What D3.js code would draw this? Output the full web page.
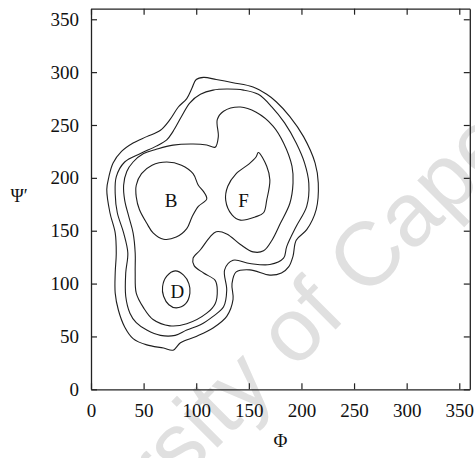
<!DOCTYPE html>
<html>
<head>
<meta charset="utf-8">
<script src="https://cdnjs.cloudflare.com/ajax/libs/d3/7.8.5/d3.min.js"></script>
<style>
  html, body { margin: 0; padding: 0; background: #fff; }
  svg { display: block; }
</style>
</head>
<body>
<svg id="chart" width="475" height="458"></svg>
<script>
// Free-energy contour levels in the (Φ, Ψ') plane, as [phi, psi] vertices in degrees.
const levelOuter = [
  [107,295],[119,293],[135,290],[154,286],[167,279],[176,272],[189,258],[202,239],
  [213,214],[216,195],[214,170],[205,151],[195,141],[192,126],[188,116],[181,110],
  [170,108],[151,113],[138,111],[134,100],[135,85],[129,69],[116,58],[100,50],
  [85,44],[78,37],[69,39],[53,42],[40,48],[32,59],[26,75],[23,91],[23,110],
  [24,129],[23,148],[18,167],[15,189],[17,201],[21,214],[29,225],[40,233],
  [53,239],[66,245],[75,255],[83,267],[91,275],[96,285],[100,293]
];
const levelSecond = [
  [24,201],[32,215],[47,223],[62,230],[72,236],[78,244],[86,258],[94,271],
  [104,279],[116,283],[129,284],[145,283],[159,279],[172,267],[184,252],[195,233],
  [203,214],[207,195],[205,173],[195,154],[186,135],[183,124],[170,118],[151,119],
  [135,122],[127,113],[129,94],[126,78],[116,69],[104,61],[91,56],[80,51],
  [66,51],[53,56],[43,63],[37,72],[33,88],[33,110],[35,129],[31,148],[25,167],[23,185]
];
const levelThird = [
  [118,229],[110,231],[97,232],[78,231],[62,227],[50,223],[40,215],[34,206],
  [31,193],[32,179],[36,163],[40,148],[42,129],[42,110],[43,91],[50,77],[59,66],
  [75,60],[91,62],[110,72],[118,81],[120,94],[118,103],[107,110],[98,117],
  [97,124],[104,132],[113,144],[119,149],[129,147],[142,137],[154,130],[164,131],
  [172,141],[180,157],[189,176],[192,195],[191,211],[183,233],[173,249],[157,262],
  [142,267],[126,263],[120,255],[121,239]
];
const basinB = [
  [43,182],[46,170],[53,157],[59,148],[69,142],[81,144],[91,152],[96,163],
  [102,173],[110,180],[107,187],[102,193],[97,204],[86,212],[72,215],[58,212],
  [48,204],[43,193]
];
const basinF = [
  [159,224],[167,211],[170,198],[167,179],[164,167],[156,163],[142,160],[134,165],
  [128,179],[130,192],[138,204],[150,213],[157,220]
];
const basinD = [
  [80,112],[88,108],[93,100],[94,91],[90,81],[81,77],[74,80],[69,88],[68,97],[72,107]
];
const levels = [levelOuter, levelSecond, levelThird, basinB, basinF, basinD];

// Basin names and where they sit.
const basinNames = ["B", "F", "D"];
const basinLabelPhi = [76, 145, 82];
const basinLabelPsi = [179, 179, 93];

const tickValues = [0, 50, 100, 150, 200, 250, 300, 350];
const axisDomain = [0, 360];

const svg = d3.select("#chart");
const x = d3.scaleLinear().domain(axisDomain).range([91, 469.8]);
const y = d3.scaleLinear().domain(axisDomain).range([389.3, 8.7]);

// Faint institutional watermark behind the plot.
svg.append("text")
  .attr("transform", "translate(340,325) rotate(-45)")
  .attr("text-anchor", "middle")
  .attr("font-family", "Liberation Sans, Arial, sans-serif")
  .attr("font-size", 90)
  .attr("fill", "#e0e0e0")
  .text("University of Cape Town");

const serif = "Liberation Serif, Times New Roman, serif";

// Contours
const line = d3.line()
  .x(d => x(d[0]))
  .y(d => y(d[1]))
  .curve(d3.curveCatmullRomClosed.alpha(0.5));

svg.append("g")
  .selectAll("path")
  .data(levels)
  .join("path")
  .attr("d", line)
  .attr("fill", "none")
  .attr("stroke", "#1e1e1e")
  .attr("stroke-width", 1.1);

// Axes: ticks point inward on all four sides, labels on bottom and left only.
function styleAxis(g) {
  g.selectAll("path.domain").attr("stroke", "#222").attr("stroke-width", 1.3);
  g.selectAll(".tick line").attr("stroke", "#222").attr("stroke-width", 1.2);
  g.selectAll(".tick text")
    .attr("font-family", serif)
    .attr("font-size", 19)
    .attr("fill", "#111");
}

svg.append("g")
  .attr("transform", `translate(0,${y(0)})`)
  .call(d3.axisBottom(x).tickValues(tickValues).tickSizeInner(-6).tickSizeOuter(0).tickPadding(14))
  .call(styleAxis);

svg.append("g")
  .attr("transform", `translate(${x(0)},0)`)
  .call(d3.axisLeft(y).tickValues(tickValues).tickSizeInner(-6).tickSizeOuter(0).tickPadding(12))
  .call(styleAxis);

svg.append("g")
  .attr("transform", `translate(0,${y(360)})`)
  .call(d3.axisTop(x).tickValues(tickValues).tickSizeInner(-6).tickSizeOuter(0).tickFormat(""))
  .call(styleAxis);

svg.append("g")
  .attr("transform", `translate(${x(360)},0)`)
  .call(d3.axisRight(y).tickValues(tickValues).tickSizeInner(-6).tickSizeOuter(0).tickFormat(""))
  .call(styleAxis);

// Basin labels
svg.append("g")
  .selectAll("text")
  .data(basinNames)
  .join("text")
  .attr("x", (d, i) => x(basinLabelPhi[i]))
  .attr("y", (d, i) => y(basinLabelPsi[i]))
  .attr("dy", "0.35em")
  .attr("text-anchor", "middle")
  .attr("font-family", serif)
  .attr("font-size", 19)
  .attr("fill", "#111")
  .text(d => d);

// Axis titles
svg.append("text")
  .attr("x", x(180))
  .attr("y", 447)
  .attr("text-anchor", "middle")
  .attr("font-family", serif)
  .attr("font-size", 19)
  .attr("fill", "#111")
  .text("Φ");

svg.append("text")
  .attr("x", 19)
  .attr("y", 202)
  .attr("text-anchor", "middle")
  .attr("font-family", serif)
  .attr("font-size", 18)
  .attr("fill", "#111")
  .text("Ψ′");
</script>
</body>
</html>
